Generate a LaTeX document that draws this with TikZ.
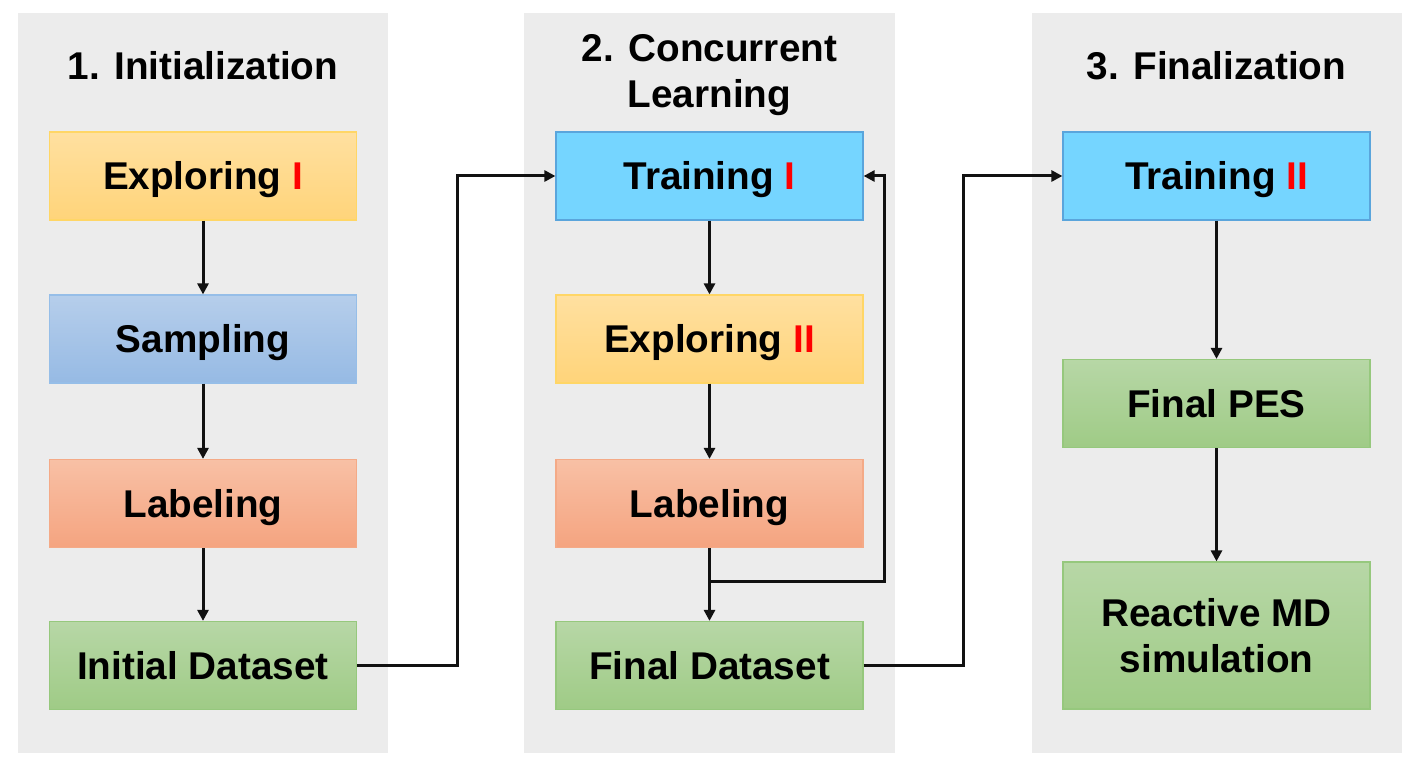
\documentclass[tikz,border=0pt]{standalone}
\usepackage{fontspec}
\setmainfont{Liberation Sans}
\usetikzlibrary{arrows.meta}
\definecolor{panelgray}{RGB}{236,236,236}
\definecolor{yelT}{RGB}{255,224,160}
\definecolor{yelB}{RGB}{255,212,122}
\definecolor{yelD}{RGB}{255,214,102}
\definecolor{bluT}{RGB}{182,206,235}
\definecolor{bluB}{RGB}{150,186,228}
\definecolor{bluD}{RGB}{150,190,232}
\definecolor{oraT}{RGB}{248,192,165}
\definecolor{oraB}{RGB}{245,164,128}
\definecolor{oraD}{RGB}{244,170,135}
\definecolor{grnT}{RGB}{183,215,166}
\definecolor{grnB}{RGB}{159,203,134}
\definecolor{grnD}{RGB}{150,200,125}
\definecolor{cyaF}{RGB}{117,213,255}
\definecolor{cyaD}{RGB}{90,165,220}
\definecolor{ired}{RGB}{255,0,0}
\definecolor{linec}{RGB}{17,17,17}
\tikzset{
  basebox/.style={rectangle, minimum width=307pt, minimum height=88pt, inner sep=0pt,
    line width=1.2pt, font=\fontsize{38.7}{46}\selectfont\bfseries, text=black,
    text height=27.7pt, text depth=0pt},
  yelbox/.style={basebox, draw=yelD, top color=yelT, bottom color=yelB},
  blubox/.style={basebox, draw=bluD, top color=bluT, bottom color=bluB},
  orabox/.style={basebox, draw=oraD, top color=oraT, bottom color=oraB},
  grnbox/.style={basebox, draw=grnD, top color=grnT, bottom color=grnB},
  cyabox/.style={basebox, draw=cyaD, fill=cyaF},
  tallbox/.style={rectangle, minimum width=307pt, minimum height=147pt, inner sep=0pt,
    line width=1.2pt, font=\fontsize{38.7}{46}\selectfont\bfseries, text=black, align=center,
    draw=grnD, top color=grnT, bottom color=grnB},
  ptitle/.style={anchor=base, inner sep=0pt, font=\fontsize{38.7}{46}\selectfont\bfseries, text=black},
  arr/.style={draw=linec, line width=3pt, -{Triangle[length=11pt,width=11pt]}},
}
\begin{document}
\begin{tikzpicture}[x=1pt,y=-1pt]
\useasboundingbox (0,0) rectangle (1410,762);
\fill[white] (0,0) rectangle (1410,762);
% panels
\fill[panelgray] (18,13) rectangle (388,753);
\fill[panelgray] (524,13) rectangle (895,753);
\fill[panelgray] (1032,13) rectangle (1402,753);
% titles
\node[ptitle] (t1) at (203,80) {1. Initialization};
\node[ptitle] (t2a) at (709.5,62) {2. Concurrent};
\node[ptitle] (t2b) at (709.5,108) {Learning};
\node[ptitle] (t3) at (1216.5,80) {3. Finalization};
% panel 1
\node[yelbox] (exp1) at (203,176) {Exploring \textcolor{ired}{I}};
\node[blubox] (samp) at (203,339) {Sampling};
\node[orabox] (lab1) at (203,503.5) {Labeling};
\node[grnbox] (init) at (203,665.5) {Initial Dataset};
% panel 2
\node[cyabox] (tr1) at (709.5,176) {Training \textcolor{ired}{I}};
\node[yelbox] (exp2) at (709.5,339) {Exploring \textcolor{ired}{II}};
\node[orabox] (lab2) at (709.5,503.5) {Labeling};
\node[grnbox] (fin) at (709.5,665.5) {Final Dataset};
% panel 3
\node[cyabox] (tr2) at (1216.5,176) {Training \textcolor{ired}{II}};
\node[grnbox] (pes) at (1216.5,403.5) {Final PES};
\node[tallbox] (md) at (1216.5,635.5) {Reactive MD\\simulation};
% connectors
\draw[arr] (exp1) -- (samp);
\draw[arr] (samp) -- (lab1);
\draw[arr] (lab1) -- (init);
\draw[arr] (init.east) -- ++(100,0) |- (tr1.west);
\draw[arr] (tr1) -- (exp2);
\draw[arr] (exp2) -- (lab2);
\draw[arr] (lab2) -- (fin);
\coordinate (junc) at (709.5,581);
\draw[arr] (junc) -- ++(174.5,0) |- (tr1.east);
\draw[arr] (fin.east) -- ++(100,0) |- (tr2.west);
\draw[arr] (tr2) -- (pes);
\draw[arr] (pes) -- (md);
\end{tikzpicture}
\end{document}
